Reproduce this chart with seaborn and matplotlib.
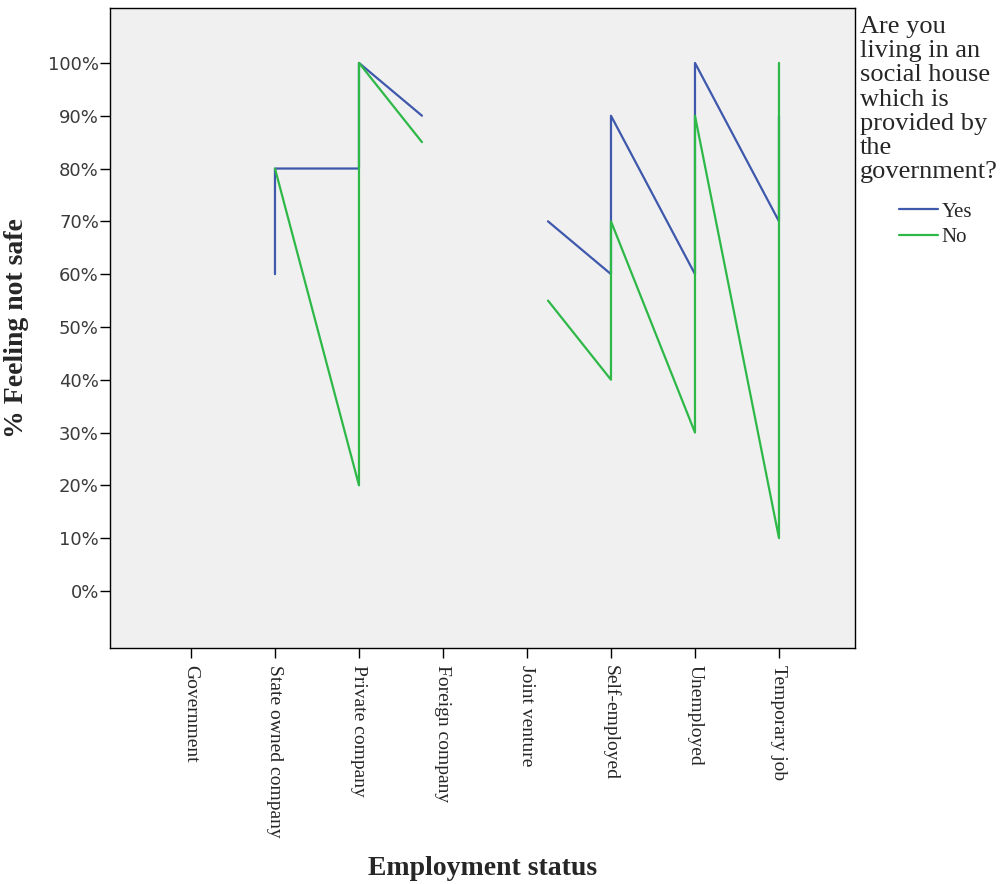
import matplotlib
matplotlib.use("Agg")
import matplotlib.pyplot as plt
import pandas as pd
import seaborn as sns
from matplotlib.ticker import FuncFormatter

# categories on the x axis
categories = ["Government", "State owned company", "Private company", "Foreign company",
              "Joint venture", "Self-employed", "Unemployed", "Temporary job"]

# series (x in category index units, y in percent)
yes_x = [1, 1, 2, 2, 2.75, 4.25, 5, 5, 6, 6, 7, 7]
yes_y = [60, 80, 80, 100, 90, 70, 60, 90, 60, 100, 70, 90]
yes_seg = [0, 0, 0, 0, 0, 1, 1, 1, 1, 1, 1, 1]

no_x = [1, 2, 2, 2.75, 4.25, 5, 5, 6, 6, 7, 7]
no_y = [80, 20, 100, 85, 55, 40, 70, 30, 90, 10, 100]
no_seg = [0, 0, 0, 0, 1, 1, 1, 1, 1, 1, 1]

y_ticks = [0, 10, 20, 30, 40, 50, 60, 70, 80, 90, 100]
legend_title = "Are you\nliving in an\nsocial house\nwhich is\nprovided by\nthe\ngovernment?"

df = pd.concat([
    pd.DataFrame({"pos": yes_x, "pct": yes_y, "seg": yes_seg, "house": "Yes"}),
    pd.DataFrame({"pos": no_x, "pct": no_y, "seg": no_seg, "house": "No"}),
], ignore_index=True)

sns.set_style("white")
plt.rcParams["font.family"] = ["Liberation Serif", "DejaVu Serif"]

fig = plt.figure(figsize=(10.01, 8.84), dpi=100)
ax = fig.add_axes([110 / 1001, 1 - 648 / 884, 745 / 1001, 640 / 884])
ax.set_facecolor("#f0f0f0")

sns.lineplot(data=df, x="pos", y="pct", hue="house", hue_order=["Yes", "No"],
             units="seg", estimator=None, sort=False,
             palette={"Yes": "#3e58ac", "No": "#2eb848"}, linewidth=1.6, ax=ax)

handles, labels = ax.get_legend_handles_labels()
ax.get_legend().remove()

ax.set_xlim(-0.964, 7.905)
ax.set_ylim(-10.8, 110.4)

ax.set_xticks(range(len(categories)))
ax.set_xticklabels(categories, rotation=270, ha="center", va="top",
                   fontsize=14, family="Liberation Serif")
ax.set_yticks(y_ticks)
ax.yaxis.set_major_formatter(FuncFormatter(lambda v, p: f"{v:.0f}%"))
for t in ax.get_yticklabels():
    t.set_family("DejaVu Sans")
    t.set_fontsize(13)
    t.set_color("#3a3a3a")

ax.tick_params(axis="both", direction="out", length=7.5, width=1, color="black",
               left=True, bottom=True)
ax.tick_params(axis="x", pad=5)
ax.tick_params(axis="y", pad=0.5)
for s in ax.spines.values():
    s.set_color("black")
    s.set_linewidth(1)

ax.set_xlabel("Employment status", fontsize=20, fontweight="bold")
ax.xaxis.set_label_coords(0.5, -0.325)
ax.set_ylabel("% Feeling not safe", fontsize=20, fontweight="bold")
ax.yaxis.set_label_coords(-0.109, 0.5)

fig.text(860 / 1001, 1 - 16 / 884, legend_title, ha="left", va="top",
         fontsize=19, linespacing=1.13, family="Liberation Serif")
fig.legend(handles, labels, loc="upper left",
           bbox_to_anchor=(899 / 1001, 1 - 202 / 884), frameon=False,
           handlelength=1.85, handletextpad=0.2, labelspacing=0.3,
           borderpad=0, borderaxespad=0, prop={"family": "Liberation Serif", "size": 15})

fig.savefig("out.png", dpi=100)
